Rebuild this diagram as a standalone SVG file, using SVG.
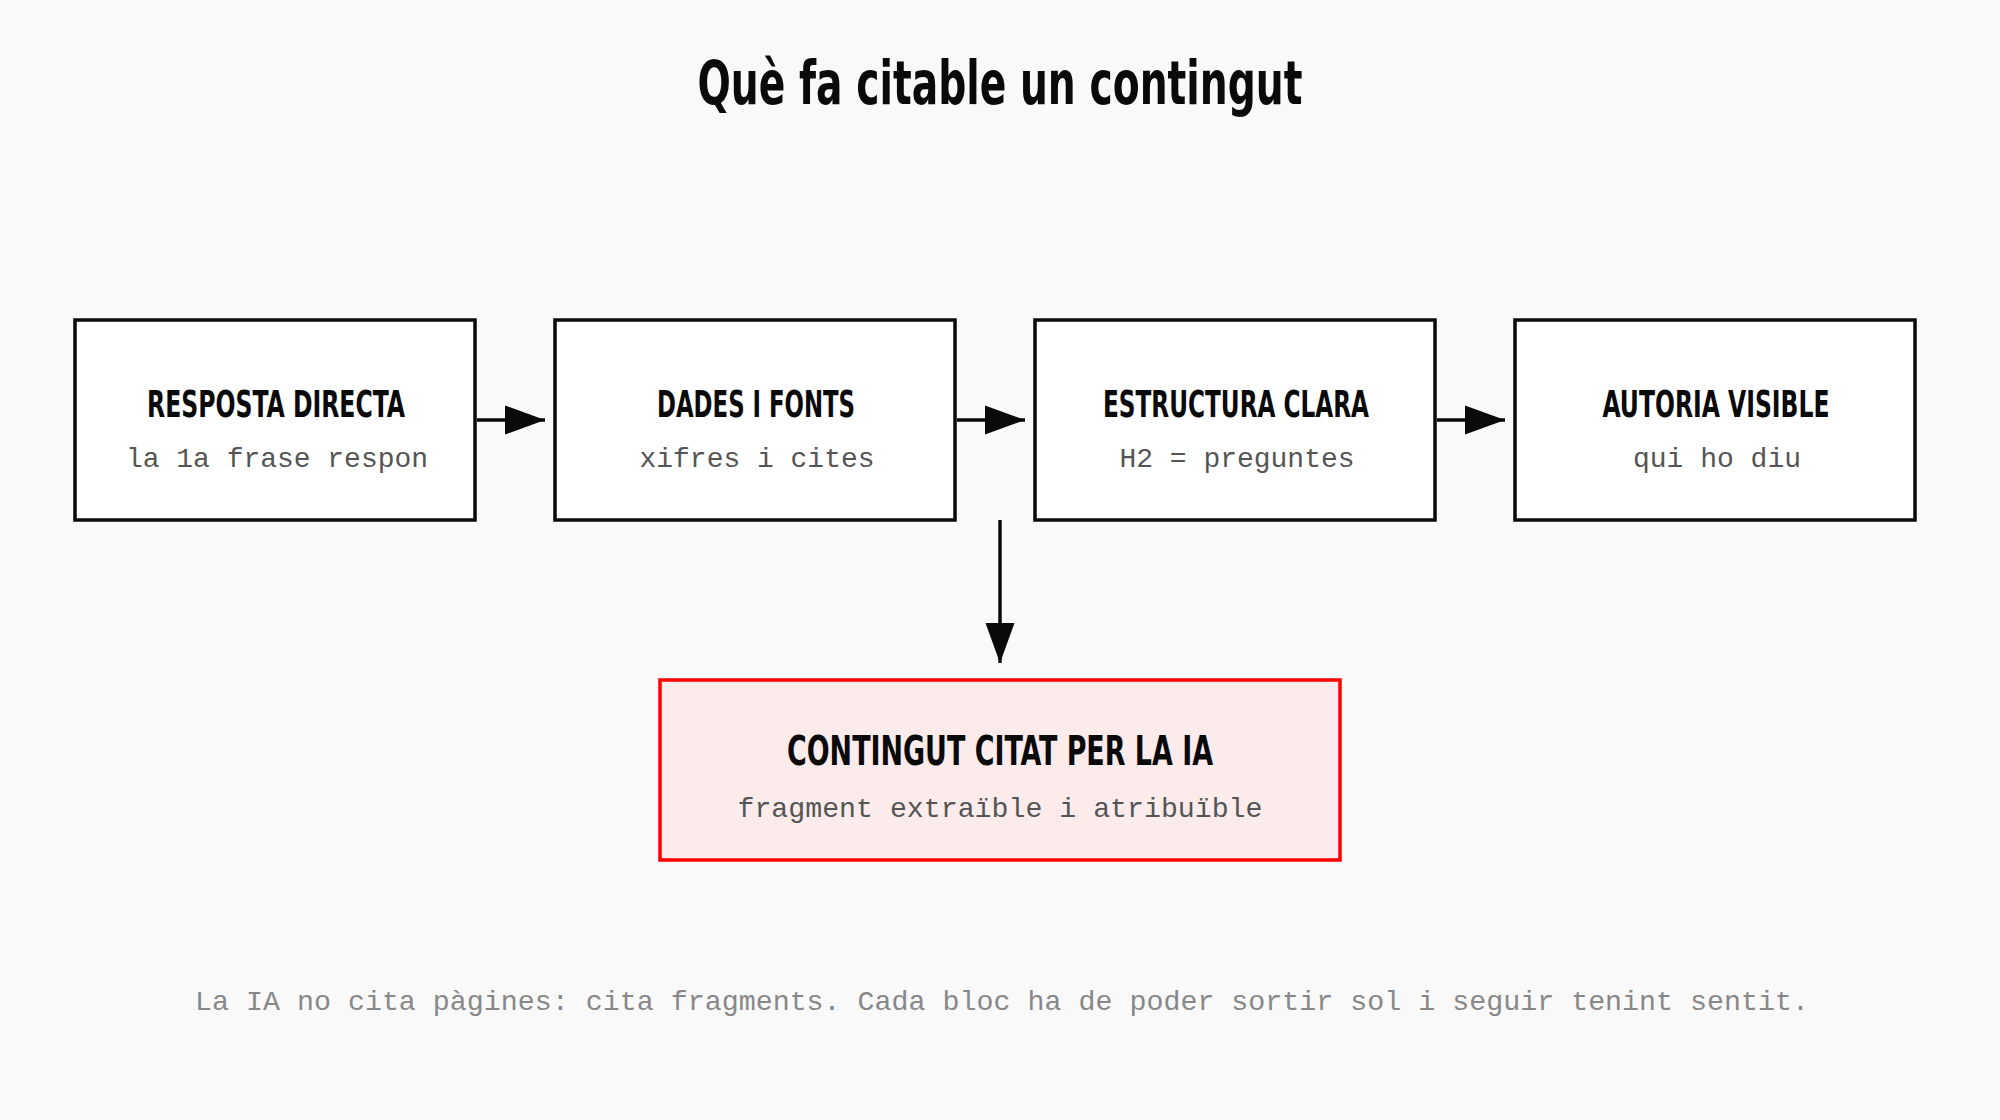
<svg xmlns="http://www.w3.org/2000/svg" width="2000" height="1120" viewBox="0 0 2000 1120">
  <style>
    .bg { fill: #f9f9f9; }
    .box { fill: #ffffff; stroke: #0a0a0a; stroke-width: 3.5; }
    .hl { fill: #fcebeb; stroke: #ff0000; stroke-width: 3.5; }
    .ttl { font-family: "DejaVu Sans Condensed", "Liberation Sans Narrow", "DejaVu Sans", sans-serif; font-weight: bold; fill: #0a0a0a; text-anchor: middle; }
    .sub { font-family: "Liberation Mono", "DejaVu Sans Mono", monospace; fill: #555555; text-anchor: middle; font-size: 28px; }
    .foot { font-family: "Liberation Mono", "DejaVu Sans Mono", monospace; fill: #888888; text-anchor: middle; font-size: 28px; }
    .edge { stroke: #0a0a0a; stroke-width: 3.5; fill: none; }
  </style>
  <defs>
    <marker id="ah" markerUnits="userSpaceOnUse" markerWidth="40" markerHeight="30" refX="40" refY="15" orient="auto">
      <path d="M0,0.5 L40,15 L0,29.5 Z" fill="#0a0a0a"/>
    </marker>
  </defs>
  <rect class="bg" x="0" y="0" width="2000" height="1120"/>

  <text class="ttl" x="1000" y="104" font-size="60" textLength="605" lengthAdjust="spacingAndGlyphs">Què fa citable un contingut</text>

  <g id="node-resposta">
    <rect class="box" x="75" y="320" width="400" height="200"/>
    <text class="ttl" x="276" y="417" font-size="37" textLength="258" lengthAdjust="spacingAndGlyphs">RESPOSTA DIRECTA</text>
    <text class="sub" x="277" y="467" textLength="302" lengthAdjust="spacingAndGlyphs">la 1a frase respon</text>
  </g>
  <g id="node-dades">
    <rect class="box" x="555" y="320" width="400" height="200"/>
    <text class="ttl" x="756" y="417" font-size="37" textLength="198" lengthAdjust="spacingAndGlyphs">DADES I FONTS</text>
    <text class="sub" x="757" y="467" textLength="235" lengthAdjust="spacingAndGlyphs">xifres i cites</text>
  </g>
  <g id="node-estructura">
    <rect class="box" x="1035" y="320" width="400" height="200"/>
    <text class="ttl" x="1236" y="417" font-size="37" textLength="266" lengthAdjust="spacingAndGlyphs">ESTRUCTURA CLARA</text>
    <text class="sub" x="1237" y="467" textLength="235" lengthAdjust="spacingAndGlyphs">H2 = preguntes</text>
  </g>
  <g id="node-autoria">
    <rect class="box" x="1515" y="320" width="400" height="200"/>
    <text class="ttl" x="1716" y="417" font-size="37" textLength="227" lengthAdjust="spacingAndGlyphs">AUTORIA VISIBLE</text>
    <text class="sub" x="1717" y="467" textLength="168" lengthAdjust="spacingAndGlyphs">qui ho diu</text>
  </g>
  <g id="node-contingut">
    <rect class="hl" x="660" y="680" width="680" height="180"/>
    <text class="ttl" x="1000" y="765" font-size="41" textLength="426" lengthAdjust="spacingAndGlyphs">CONTINGUT CITAT PER LA IA</text>
    <text class="sub" x="1000" y="817" textLength="525" lengthAdjust="spacingAndGlyphs">fragment extraïble i atribuïble</text>
  </g>

  <g id="connectors">
    <line class="edge" x1="477" y1="420" x2="545" y2="420" marker-end="url(#ah)"/>
    <line class="edge" x1="957" y1="420" x2="1025" y2="420" marker-end="url(#ah)"/>
    <line class="edge" x1="1437" y1="420" x2="1505" y2="420" marker-end="url(#ah)"/>
    <line class="edge" x1="1000" y1="520" x2="1000" y2="663" marker-end="url(#ah)"/>
  </g>

  <text class="foot" x="1002" y="1010" textLength="1614" lengthAdjust="spacingAndGlyphs">La IA no cita pàgines: cita fragments. Cada bloc ha de poder sortir sol i seguir tenint sentit.</text>
</svg>
